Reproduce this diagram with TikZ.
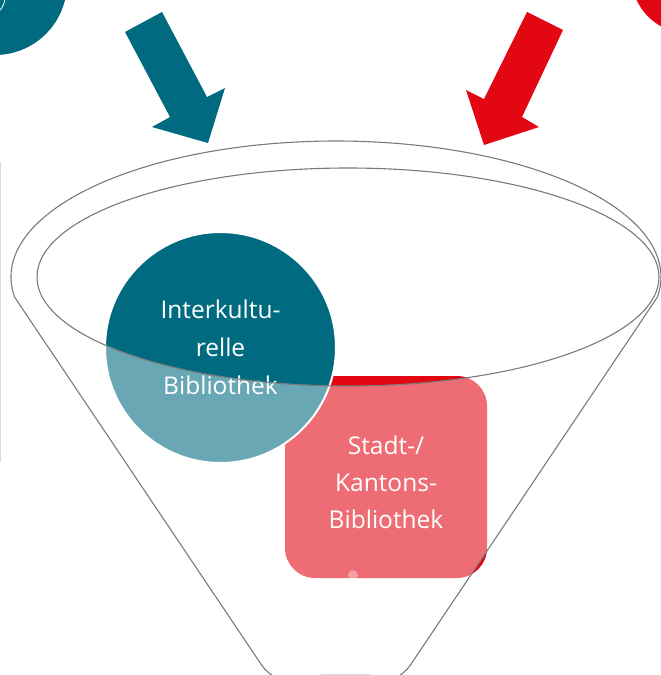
\documentclass[tikz,border=0pt]{standalone}
\usepackage{fontspec}
\setmainfont{Open Sans}
\usetikzlibrary{positioning}
\definecolor{ikteal}{HTML}{006B80}
\definecolor{skred}{HTML}{E30613}
\definecolor{linegray}{HTML}{7A7A7A}
\definecolor{framegray}{HTML}{DCDCDC}
\definecolor{lavender}{HTML}{D8D4F0}
\tikzstyle{ikcircle} = [circle, minimum size=231pt, inner sep=0pt, fill=ikteal, draw=white, line width=2pt, text=white, align=center, font=\fontsize{24.5}{38}\selectfont]
\tikzstyle{skbox} = [rectangle, rounded corners=30pt, minimum width=202pt, minimum height=202pt, inner sep=0pt, fill=skred, text=white, align=center, font=\fontsize{24.5}{37}\selectfont]
\tikzstyle{funnelline} = [draw=linegray, line width=1.1pt]
\tikzstyle{wash} = [fill=white, fill opacity=0.41]

\begin{document}
\begin{tikzpicture}[x=1pt, y=-1pt]
    \useasboundingbox (0,0) rectangle (661,675);
    \clip (0,0) rectangle (661,675);
    % corner circles
    \fill[ikteal] (-5,-17) circle[radius=72];
    \draw[white, line width=0.8pt] (-15,-3) circle[radius=20];
    \fill[skred] (690,-25) circle[radius=59];
    \draw[framegray, line width=1pt] (0.5,162) -- (0.5,462);
    % arrows
    \fill[ikteal] (125,32) -- (162,12) -- (207,97) -- (225,88) -- (208,143) -- (152,127) -- (170,117) -- cycle;
    \fill[skred] (527,12) -- (484,99) -- (466,90) -- (484,145) -- (539,127) -- (522,117) -- (563,30) -- cycle;
    % libraries
    \node[skbox] (stadt) at (386,477) {\rule{0pt}{29pt}Stadt-/\\Kantons-\\Bibliothek};
    \node[ikcircle] (inter) at (220.5,347.5) {Interkultu-\\relle\\Bibliothek};
    % funnel
    \path[wash, even odd rule] (14.6,297.1) arc[start angle=171.5, end angle=368.5, x radius=325, y radius=136]
        -- (397,685) -- (275,685) -- cycle
        (348,277) ellipse[x radius=311, y radius=109];
    \fill[white, opacity=0.35] ([xshift=-33pt, yshift=3pt]stadt.south) circle[radius=5];
    \draw[funnelline] (14.6,297.1) arc[start angle=171.5, end angle=368.5, x radius=325, y radius=136];
    \draw[funnelline, rounded corners=24pt] (657.4,297.1) -- (397,685) -- (275,685) -- (14.6,297.1);
    \draw[funnelline] (348,277) ellipse[x radius=311, y radius=109];
    \draw[lavender, line width=1.2pt] (321,674.4) -- (370,674.4);
\end{tikzpicture}
\end{document}
